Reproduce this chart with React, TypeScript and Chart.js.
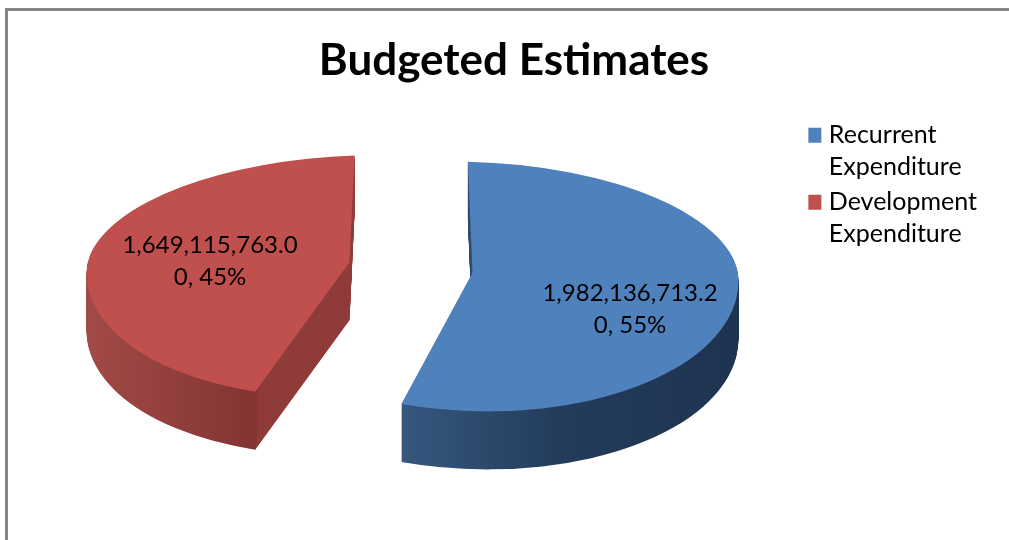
import React, { useEffect, useRef } from "react";
import { Chart, registerables } from "chart.js";

Chart.register(...registerables);

const categories = ["Recurrent Expenditure", "Development Expenditure"];
const budgetValues = [1982136713.2, 1649115763.0];
const sliceColors = ["#4f81bd", "#c0504d"];
const titleText = "Budgeted Estimates";

// Drawing style of the tilted, exploded 3D pie
const FONT = "Lato, Carlito, sans-serif";
const pieCenter = { x: 411, y: 265 };
const explode = 62;
const pieRadii = [266, 263];
const depth = 58;
const apexNudgeY = [0, 5];
const squashTop = [0.417, 0.405];
const squashBottom = [0.52, 0.512];
const shear = [0.03, -0.04];
const tiltTop = [0, 2.1];
const tiltBottom = [0, 5.5];
const labelCenters = [
  { x: 630, y: 309 },
  { x: 210, y: 261 },
];
const wallStops = [
  [[0, "#36587f"], [0.365, "#36587f"], [0.66, "#233c5b"], [1, "#1e3350"]],
  [[0, "#a24a47"], [0.322, "#823432"], [0.326, "#8f3b39"], [1, "#8b3937"]],
];

function wrapLabel(value: number, total: number) {
  const text =
    value.toLocaleString("en-US", { minimumFractionDigits: 2, maximumFractionDigits: 2 }) +
    ", " +
    Math.round((value / total) * 100) +
    "%";
  return [text.slice(0, 15), text.slice(15)];
}

const pie3d = {
  id: "pie3d",
  beforeDatasetsDraw(chart: any) {
    const ctx = chart.ctx as CanvasRenderingContext2D;
    const arcs = chart.getDatasetMeta(0).data;
    const total = budgetValues.reduce((a, b) => a + b, 0);
    const w = chart.width;
    const h = chart.height;

    const order = [1, 0];
    order.forEach((i) => {
      const arc = arcs[i];
      const mid = (arc.startAngle + arc.endAngle) / 2;
      const apexX = pieCenter.x + Math.cos(mid) * explode;
      const apexY = pieCenter.y + Math.sin(mid) * explode + apexNudgeY[i];

      const paint = (fill: any, dy: number) => {
        const halves = [
          { s: squashTop[i], t: tiltTop[i], y0: -h, y1: 0.5 },
          { s: squashBottom[i], t: tiltBottom[i], y0: -0.5, y1: h },
        ];
        halves.forEach(({ s, t, y0, y1 }) => {
          const clone = Object.create(arc);
          const rad = (t * Math.PI) / 180;
          clone.startAngle = arc.startAngle + rad;
          clone.endAngle = arc.endAngle + rad;
          clone.outerRadius = pieRadii[i];
          clone.options = {
            backgroundColor: fill,
            borderColor: "transparent",
            borderWidth: 0,
            borderRadius: 0,
            borderAlign: "center",
            offset: 0,
            spacing: 0,
            circular: true,
          };
          ctx.save();
          ctx.translate(apexX, apexY + dy);
          ctx.transform(1, shear[i], 0, 1, 0, 0);
          ctx.beginPath();
          ctx.rect(-w, y0, 2 * w, y1 - y0);
          ctx.clip();
          ctx.scale(1, s);
          ctx.translate(-arc.x, -arc.y);
          clone.draw(ctx);
          ctx.restore();
        });
      };

      const grad = ctx.createLinearGradient(arc.x - pieRadii[i], 0, arc.x + pieRadii[i], 0);
      wallStops[i].forEach(([p, c]: any) => grad.addColorStop(p, c));
      for (let d = depth; d > 0; d -= 1) paint(grad, d);
      paint(arc.options.backgroundColor, 0);
    });

    ctx.save();
    ctx.fillStyle = "#000";
    ctx.font = `24px ${FONT}`;
    ctx.textAlign = "center";
    ctx.textBaseline = "middle";
    budgetValues.forEach((v, i) => {
      const lines = wrapLabel(v, total);
      const c = labelCenters[i];
      ctx.fillText(lines[0], c.x, c.y - 16);
      ctx.fillText(lines[1], c.x, c.y + 16);
    });
    ctx.restore();
    return false;
  },
};

export default function App() {
  const ref = useRef<HTMLCanvasElement>(null);
  useEffect(() => {
    document.body.style.margin = "0";
    const chart = new Chart(ref.current!, {
      type: "pie",
      data: {
        labels: categories,
        datasets: [
          {
            data: budgetValues,
            backgroundColor: sliceColors,
            borderWidth: 0,
            radius: pieRadii[0],
          } as any,
        ],
      },
      options: {
        responsive: false,
        animation: false,
        devicePixelRatio: 1,
        rotation: -1,
        layout: { padding: { left: 50, right: 31, top: 0, bottom: 60 } },
        plugins: {
          tooltip: { enabled: false },
          title: {
            display: true,
            text: titleText,
            color: "#000",
            font: { family: FONT, size: 44, weight: "bold", lineHeight: 1.2 },
            padding: { top: 34, bottom: 33 },
          },
          legend: {
            position: "right",
            align: "start",
            fullSize: false,
            labels: {
              color: "#000",
              font: { family: FONT, size: 25, lineHeight: 1.28 },
              boxWidth: 5,
              boxHeight: 5,
              padding: 3,
              generateLabels: (c: any) =>
                c.data.labels.map((l: string, i: number) => ({
                  text: l.split(" ").map((word: string) => word + " "),
                  fillStyle: sliceColors[i],
                  strokeStyle: sliceColors[i],
                  lineWidth: 10,
                  fontColor: "#000",
                  index: i,
                  hidden: false,
                })),
            },
          },
        },
      },
      plugins: [pie3d],
    } as any);
    return () => chart.destroy();
  }, []);

  return (
    <div style={{ position: "relative", width: 1009, height: 540, overflow: "hidden", background: "#fff" }}>
      <canvas ref={ref} width={1009} height={540} style={{ position: "absolute", left: 0, top: 0 }} />
      <div
        style={{
          position: "absolute",
          left: 5,
          top: 8,
          width: 1100,
          height: 700,
          borderLeft: "3px solid #868686",
          borderTop: "3px solid #868686",
        }}
      />
    </div>
  );
}
